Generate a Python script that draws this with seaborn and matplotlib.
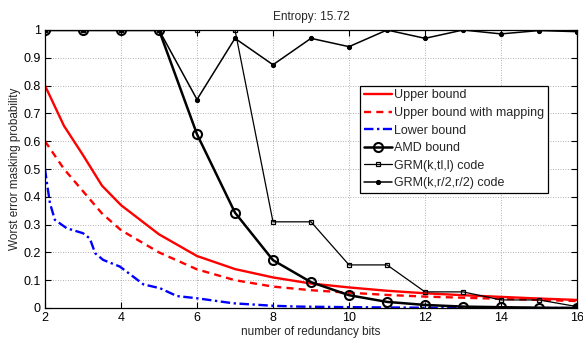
import numpy as np
import pandas as pd
import matplotlib
matplotlib.use("Agg")
import matplotlib.pyplot as plt
import seaborn as sns

# ---- data ----
ub_x = [2, 2.5, 3, 3.5, 4, 5, 6, 7, 8, 9, 10, 11, 12, 13, 14, 15, 16]
ub_y = [0.80, 0.655, 0.55, 0.44, 0.37, 0.265, 0.187, 0.14, 0.11, 0.088, 0.074,
        0.062, 0.053, 0.046, 0.040, 0.034, 0.029]

ubm_x = [2, 2.5, 3, 3.5, 4, 5, 6, 7, 8, 9, 10, 11, 12, 13, 14, 15, 16]
ubm_y = [0.60, 0.50, 0.42, 0.34, 0.28, 0.20, 0.139, 0.10, 0.077, 0.064, 0.055,
         0.047, 0.041, 0.037, 0.033, 0.029, 0.025]

lb_x = [2, 2.05, 2.13, 2.26, 2.57, 3.0, 3.18, 3.32, 3.53, 3.97, 4.32, 4.59, 5.03,
        5.47, 6.0, 6.95, 8.0, 8.7, 10, 11, 12, 14, 16]
lb_y = [0.50, 0.45, 0.377, 0.317, 0.287, 0.269, 0.25, 0.197, 0.173, 0.149, 0.113,
        0.085, 0.071, 0.043, 0.035, 0.017, 0.008, 0.005, 0.003, 0.002, 0.001, 0.0, 0.0]

bits = [2, 3, 4, 5, 6, 7, 8, 9, 10, 11, 12, 13, 14, 15, 16]
amd_y = [1, 1, 1, 1, 0.625, 0.343, 0.172, 0.093, 0.046, 0.022, 0.011, 0.005,
         0.003, 0.001, 0.0]
grm_tl_y = [1, 1, 1, 1, 1, 1, 0.31, 0.31, 0.155, 0.155, 0.058, 0.058, 0.029,
            0.029, 0.005]
grm_r2_y = [1, 1, 1, 1, 0.75, 0.97, 0.875, 0.97, 0.94, 1.0, 0.97, 1.0, 0.986,
            0.998, 0.994]

xticks = [2, 4, 6, 8, 10, 12, 14, 16]
yticks = [0, 0.1, 0.2, 0.3, 0.4, 0.5, 0.6, 0.7, 0.8, 0.9, 1]
ytick_labels = ["0", "0.1", "0.2", "0.3", "0.4", "0.5", "0.6", "0.7", "0.8", "0.9", "1"]

sns.set_style("ticks")
plt.rcParams["font.family"] = ["Liberation Sans", "DejaVu Sans"]

fig = plt.figure(figsize=(5.83, 3.38), dpi=100)
ax = fig.add_axes([45/583, 1-308/338, (577-45)/583, (308-30)/338])

common = dict(ax=ax, estimator=None, sort=False, legend=False)
sns.lineplot(x=ub_x, y=ub_y, color="red", linewidth=1.7, linestyle="-",
             label="Upper bound", **common)
sns.lineplot(x=ubm_x, y=ubm_y, color="red", linewidth=1.7, linestyle=(0, (3, 2.2)),
             label="Upper bound with mapping", **common)
sns.lineplot(x=lb_x, y=lb_y, color="blue", linewidth=1.7, linestyle=(0, (4, 1.5, 1, 1.5)),
             label="Lower bound", **common)
sns.lineplot(x=bits, y=amd_y, color="black", linewidth=1.8, marker="o", markersize=6.5,
             markerfacecolor="none", markeredgecolor="black", markeredgewidth=1.5,
             label="AMD bound", **common)
sns.lineplot(x=bits, y=grm_tl_y, color="black", linewidth=0.9, marker="s", markersize=3.5,
             markerfacecolor="none", markeredgecolor="black", markeredgewidth=0.9,
             label="GRM(k,tl,l) code", **common)
sns.lineplot(x=bits, y=grm_r2_y, color="black", linewidth=1.1, marker=".", markersize=6,
             markerfacecolor="black", markeredgecolor="black",
             label="GRM(k,r/2,r/2) code", **common)

ax.set_xlim(2, 16)
ax.set_ylim(0, 1)
ax.set_xticks(xticks)
ax.set_yticks(yticks)
ax.set_yticklabels(ytick_labels)
ax.grid(True, linestyle=(0, (1, 2)), color="#999999", linewidth=0.6)
ax.tick_params(direction="in", length=4, width=0.8, top=True, right=True,
               labelsize=9, pad=3, colors="black")
for s in ax.spines.values():
    s.set_visible(True)
    s.set_color("black")
    s.set_linewidth(0.9)

ax.set_title("Entropy: 15.72", fontsize=8.5, pad=7)
ax.set_xlabel("number of redundancy bits", fontsize=8.5, labelpad=1.5)
ax.set_ylabel("Worst error masking probability", fontsize=8.5, labelpad=2)

leg = ax.legend(loc="upper left", bbox_to_anchor=(0.592, 0.80), fontsize=9,
                frameon=True, fancybox=False, framealpha=1, edgecolor="black",
                handlelength=2.3, handletextpad=0.1, labelspacing=0.45,
                borderpad=0.3, borderaxespad=0)
leg.get_frame().set_linewidth(0.9)

fig.savefig("out.png", dpi=100)
